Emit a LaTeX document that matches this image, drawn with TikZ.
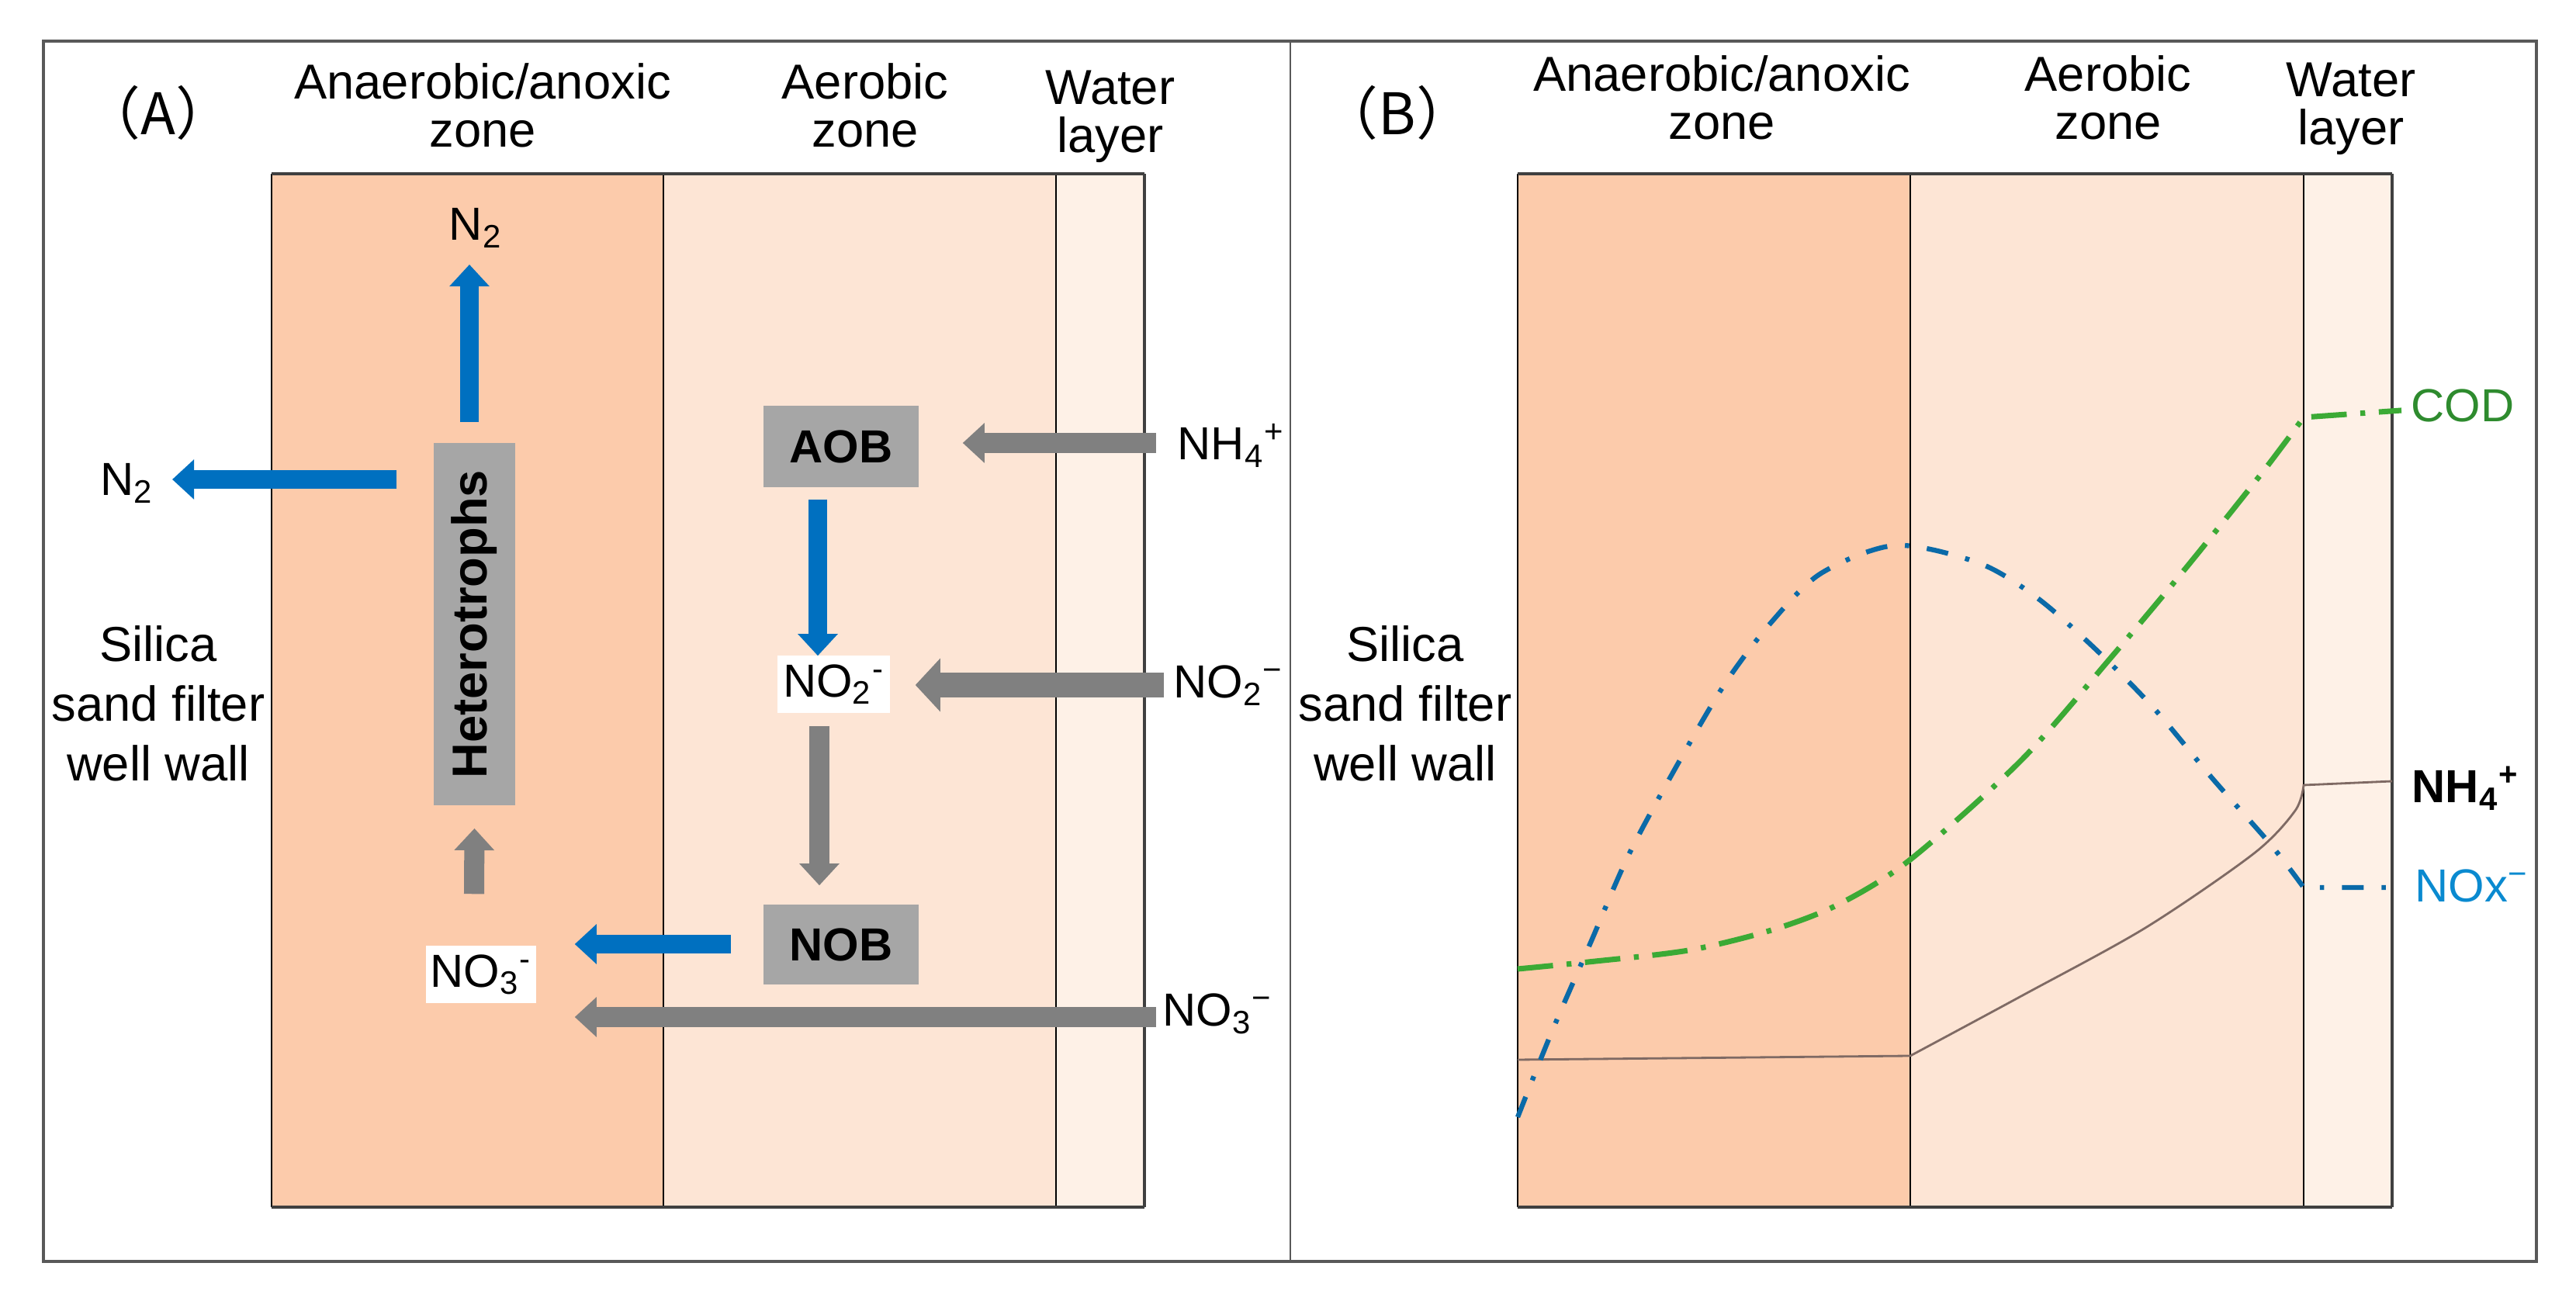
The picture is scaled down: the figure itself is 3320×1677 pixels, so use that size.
\documentclass[tikz,border=0pt]{standalone}
\usepackage{fontspec}
\usepackage{graphicx}
\setmainfont{Liberation Sans}
\newfontfamily\cjk{Noto Sans CJK SC}
\usetikzlibrary{arrows.meta,calc}
\definecolor{zanaer}{HTML}{FCCBAB}
\definecolor{zaer}{HTML}{FDE5D5}
\definecolor{zwat}{HTML}{FEF1E7}
\definecolor{boxgray}{HTML}{A6A6A6}
\definecolor{arrgray}{HTML}{808080}
\definecolor{arrblue}{HTML}{0070C0}
\definecolor{codgreen}{HTML}{3BAA35}
\definecolor{codtext}{HTML}{2E8B2E}
\definecolor{noxblue}{HTML}{0A6AA8}
\definecolor{noxtext}{HTML}{0A8AD0}
\definecolor{nhbrown}{HTML}{7F6A64}
\definecolor{framegray}{HTML}{595959}
\definecolor{edgegray}{HTML}{404040}
\begin{document}
\begin{tikzpicture}[x=0.01cm,y=-0.01cm,
  hdr/.style={font=\fontsize{18}{18}\selectfont, inner sep=0pt, anchor=base},
  lbl/.style={font=\fontsize{17}{17}\selectfont, inner sep=0pt, anchor=base west},
  bug/.style={fill=boxgray, inner sep=0pt, font=\bfseries\fontsize{17}{17}\selectfont},
  wbox/.style={fill=white, inner sep=0pt, font=\fontsize{17}{17}\selectfont},
  plab/.style={font=\cjk\fontsize{21}{21}\selectfont, inner sep=0pt},
  bluearr/.style={draw=arrblue, line width=6.8pt, -{Triangle[length=8pt,width=14.2pt]}},
  grayarr/.style={draw=arrgray, line width=7.4pt, -{Triangle[length=8pt,width=14.2pt]}},
  grayarrL/.style={draw=arrgray, line width=9.1pt, -{Triangle[length=9.1pt,width=19pt]}},
  codline/.style={draw=codgreen, line width=2pt, dash pattern=on 13pt off 5pt on 1.8pt off 5pt},
  noxline/.style={draw=noxblue, line width=1.8pt, dash pattern=on 8pt off 6.5pt on 1.6pt off 6.5pt},
  nhline/.style={draw=nhbrown, line width=0.8pt},
  zoneedge/.style={draw=edgegray, line width=1.2pt},
  zonediv/.style={draw=black, line width=0.5pt}
]
\useasboundingbox (0,0) rectangle (3320,1677);
\fill[white] (0,0) rectangle (3320,1677);

% outer frame
\draw[framegray, line width=1pt] (56,53) rectangle (3269,1626);
\draw[framegray, line width=0.8pt] (1663,53) -- (1663,1626);

% ---------- Panel A zones ----------
\fill[zanaer] (350,224) rectangle (855,1556);
\fill[zaer] (855,224) rectangle (1361,1556);
\fill[zwat] (1361,224) rectangle (1475,1556);
\draw[zonediv] (350,224) -- (350,1556);
\draw[zonediv] (855,224) -- (855,1556);
\draw[zonediv] (1361,224) -- (1361,1556);
\draw[zoneedge, line width=0.9pt] (1475,224) -- (1475,1556);
\draw[zoneedge] (350,224) -- (1475,224);
\draw[zoneedge] (350,1556) -- (1475,1556);

% ---------- Panel B zones ----------
\fill[zanaer] (1956,224) rectangle (2462,1556);
\fill[zaer] (2462,224) rectangle (2969,1556);
\fill[zwat] (2969,224) rectangle (3083,1556);
\draw[zonediv] (1956,224) -- (1956,1556);
\draw[zonediv] (2462,224) -- (2462,1556);
\draw[zonediv] (2969,224) -- (2969,1556);
\draw[zoneedge, line width=0.9pt] (3083,224) -- (3083,1556);
\draw[zoneedge] (1956,224) -- (3083,224);
\draw[zoneedge] (1956,1556) -- (3083,1556);

% ---------- Panel A texts ----------
\node[plab] (lblA) at (204,145) {（A）};
\node[hdr] (ta1) at (622,128) {Anaerobic/anoxic};
\node[hdr] (ta2) at (622,190) {zone};
\node[hdr] (ta3) at (1115,128) {Aerobic};
\node[hdr] (ta4) at (1115,190) {zone};
\node[hdr] (ta5) at (1431,135) {Water};
\node[hdr] (ta6) at (1431,197) {layer};
\node[hdr] (sa1) at (204,853) {Silica};
\node[hdr] (sa2) at (204,930) {sand filter};
\node[hdr] (sa3) at (204,1007) {well wall};

\node[lbl, anchor=base] (n2top) at (613,310) {N\textsubscript{2}};
\node[lbl] (n2left) at (129,639) {N\textsubscript{2}};
\node[lbl] (nh4a) at (1517,593) {NH\textsubscript{4}\textsuperscript{+}};
\node[lbl] (no2a) at (1512,900) {NO\textsubscript{2}\textsuperscript{−}};
\node[lbl] (no3a) at (1498,1323) {NO\textsubscript{3}\textsuperscript{−}};

% boxes
\node[bug, minimum width=1.05cm, minimum height=4.67cm, font=\bfseries\fontsize{18}{18}\selectfont] (het) at (611.5,804.5) {\rotatebox{90}{Heterotrophs}};
\node[bug, minimum width=2.0cm, minimum height=1.05cm] (aob) at (1084,575.5) {AOB};
\node[bug, minimum width=2.0cm, minimum height=1.03cm] (nob) at (1084,1217.5) {NOB};
\node[wbox, minimum width=1.45cm, minimum height=0.74cm] (no2box) at (1074.5,882) {NO\textsubscript{2}\textsuperscript{-}};
\node[wbox, minimum width=1.42cm, minimum height=0.74cm] (no3box) at (620,1256) {NO\textsubscript{3}\textsuperscript{-}};

% arrows
\draw[bluearr] ($(het.north)+(-6.5,-26)$) -- ($(n2top.base)+(-8,31)$);
\draw[bluearr] ($(het.west)+(-47,-186.5)$) -- ($(n2left.base west)+(93,-21)$);
\draw[grayarr] ($(nh4a.base west)+(-27,-22)$) -- ($(aob.east)+(56,-4.5)$);
\draw[bluearr] ($(aob.south)+(-30,15)$) -- ($(no2box.north)+(-20.5,1)$);
\draw[grayarrL] ($(no2a.base west)+(-12,-17)$) -- ($(no2box.east)+(32,1)$);
\draw[grayarr] ($(no2box.south)+(-18.5,16)$) -- ($(nob.north)+(-28,-24)$);
\draw[bluearr] ($(nob.west)+(-41,-0.5)$) -- ($(no3box.east)+(49,-39)$);
\draw[grayarr] ($(no3a.base west)+(-8,-12)$) -- ($(no3box.east)+(49,55)$);
\draw[grayarr] ($(no3box.north)+(-9,-66)$) -- ($(het.south)+(0,29)$);

% ---------- Panel B texts ----------
\node[plab] (lblB) at (1801,145) {（B）};
\node[hdr] (tb1) at (2219,118) {Anaerobic/anoxic};
\node[hdr] (tb2) at (2219,180) {zone};
\node[hdr] (tb3) at (2717,118) {Aerobic};
\node[hdr] (tb4) at (2717,180) {zone};
\node[hdr] (tb5) at (3030,125) {Water};
\node[hdr] (tb6) at (3030,187) {layer};
\node[hdr] (sb1) at (1811,853) {Silica};
\node[hdr] (sb2) at (1811,930) {sand filter};
\node[hdr] (sb3) at (1811,1007) {well wall};

\node[lbl, text=codtext] (cod) at (3107,544) {COD};
\node[lbl, font=\bfseries\fontsize{17}{17}\selectfont] (nh4b) at (3108,1035) {NH\textsubscript{4}\textsuperscript{+}};
\node[lbl, text=noxtext] (nox) at (3112,1163) {NOx\textsuperscript{−}};

% curves
\draw[nhline] (1956,1366) -- (2462,1361)
  plot[smooth, tension=0.5] coordinates {(2462,1361) (2605,1284) (2765,1196) (2905,1100) (2958,1045) (2969,1012)}
  -- (3083,1007);
\draw[codline] plot[smooth, tension=0.5] coordinates {(1956,1249) (2047,1240) (2176,1225) (2283,1199) (2369,1166) (2462,1108) (2605,980) (2722,846) (2819,730) (2915,610) (2969,538)} -- (3095,529);
\draw[noxline] plot[smooth, tension=0.5] coordinates {(1956,1440) (2000,1330) (2050,1215) (2100,1100) (2165,980) (2224,880) (2283,802) (2347,739) (2443,703) (2551,726) (2626,771) (2701,837) (2776,913) (2851,1003) (2926,1088) (2969,1144)} -- (3095,1144);
\end{tikzpicture}
\end{document}
